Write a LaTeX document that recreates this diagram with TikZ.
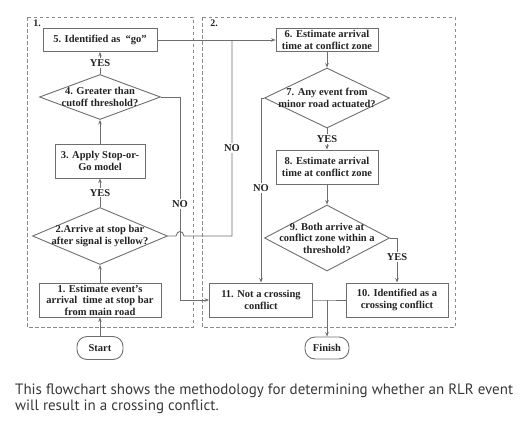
\documentclass[tikz,border=0pt]{standalone}
\usepackage{fontspec}
\setmainfont{Liberation Serif}
\newfontfamily\capfont{PT Sans}
\usetikzlibrary{shapes.geometric,arrows.meta}
\definecolor{ln}{HTML}{6E6E6E}
\definecolor{tx}{HTML}{222222}
\definecolor{dsh}{HTML}{8A8A8A}
\begin{document}
\begin{tikzpicture}[x=1pt,y=-1pt,
  every node/.style={text=tx},
  box/.style={draw=ln,line width=0.9pt,rectangle,inner sep=0pt,align=center,font=\fontsize{10.5}{11.5}\selectfont\bfseries},
  dia/.style={draw=ln,line width=0.9pt,diamond,inner sep=0pt},
  dtxt/.style={inner sep=0pt,align=center,font=\fontsize{10.5}{11.5}\selectfont\bfseries},
  term/.style={draw=ln,line width=0.9pt,rounded corners=10pt,inner sep=0pt,font=\fontsize{10.5}{11.5}\selectfont\bfseries},
  lab/.style={fill=white,inner sep=1pt,font=\fontsize{10.5}{11.5}\selectfont\bfseries},
  conn/.style={draw=ln,line width=0.9pt},
  arr/.style={conn,-{Stealth[length=4.5pt,width=3.5pt]}},
  grp/.style={draw=dsh,line width=0.9pt,dash pattern=on 3.5pt off 2.5pt},
  glab/.style={inner sep=0pt,font=\fontsize{10}{11}\selectfont\bfseries},
  captxt/.style={anchor=base west,inner sep=0pt,text=tx!90!white,font=\capfont\fontsize{15}{16}\selectfont}
]
\useasboundingbox (0,0) rectangle (527,426);
% group frames
\draw[grp] (27,17) rectangle (193,327);
\draw[grp] (202,17) rectangle (455,327);
\node[glab] (g1) at (37,23) {1.};
\node[glab] (g2) at (214,23) {2.};
% nodes
\node[term,minimum width=46pt,minimum height=23pt] (start) at (100,348) {Start};
\node[box,minimum width=122pt,minimum height=34pt] (b1) at (100,300) {1. Estimate event's\\arrival\ \ time at stop bar\\from main road};
\node[dia,minimum width=135pt,minimum height=57pt] (d2) at (100,236) {};
\node[dtxt] at (d2) {2.Arrive at stop bar\\after signal is yellow?};
\node[box,minimum width=90pt,minimum height=34pt] (b3) at (100,161) {3. Apply Stop-or-\\Go model};
\node[dia,minimum width=121pt,minimum height=45pt] (d4) at (100,97) {};
\node[dtxt] at (d4) {4. Greater than\\cutoff threshold?};
\node[box,minimum width=114pt,minimum height=23pt] (b5) at (100,40) {5. Identified as\ \ “go”};
\node[box,minimum width=102pt,minimum height=23pt] (b6) at (327,40) {6. Estimate arrival\\time at conflict zone};
\node[dia,minimum width=125pt,minimum height=60pt] (d7) at (327,98) {};
\node[dtxt] at (d7) {7. Any event from\\minor road actuated?};
\node[box,minimum width=102pt,minimum height=34pt] (b8) at (327,167) {8. Estimate arrival\\time at conflict zone};
\node[dia,minimum width=125pt,minimum height=66pt] (d9) at (327,238) {};
\node[dtxt] at (d9) {9. Both arrive at\\conflict zone within a\\threshold?};
\node[box,minimum width=103pt,minimum height=34pt] (b11) at (261,300) {11. Not a crossing\\conflict};
\node[box,minimum width=102pt,minimum height=34pt] (b10) at (397,300) {10. Identified as a\\crossing conflict};
\node[term,minimum width=44pt,minimum height=22pt] (fin) at (327,348) {Finish};
% helper coordinates
\coordinate (c2a) at (232,236);
\coordinate (c2b) at (232,40);
\coordinate (c4a) at (180,97);
\coordinate (c4b) at (180,300);
\coordinate (c7a) at (261,98);
\coordinate (c9a) at (397,238);
\coordinate (cj) at (327,300);
% connectors
\draw[arr] (start) -- (b1);
\draw[arr] (b1) -- (d2);
\draw[arr] (d2.north) -- (b3.south) node[lab,midway] (y1) {YES};
\draw[arr] (b3) -- (d4);
\draw[arr] (d4.north) -- (b5.south) node[lab,midway] (y2) {YES};
\draw[arr] (b5) -- (b6);
\draw[arr] (d4.east) -- (c4a) -- (c4b) -- (b11.west);
\node[lab] (n1) at (180,204) {NO};
\draw[conn] (d2.east) -- (176,236) .. controls (177,230) and (183,230) .. (184,236) -- (c2a) -- (c2b);
\node[lab] (n2) at (232,148) {NO};
\draw[arr] (b6) -- (d7);
\draw[arr] (d7.south) -- (b8.north) node[lab,midway] (y3) {YES};
\draw[arr] (d7.west) -- (c7a) -- (b11.north);
\node[lab] (n3) at (261,188) {NO};
\draw[arr] (b8) -- (d9);
\draw[arr] (d9.east) -- (c9a) -- (b10.north);
\node[lab] (y4) at (397,257) {YES};
\draw[conn] (b11.east) -- (cj) -- (b10.west);
\draw[arr] (cj) -- (fin.north);
% caption
\node[captxt] (cap1) at (15,394) {This flowchart shows the methodology for determining whether an RLR event};
\node[captxt] (cap2) at (15,410) {will result in a crossing conflict.};
\end{tikzpicture}
\end{document}
